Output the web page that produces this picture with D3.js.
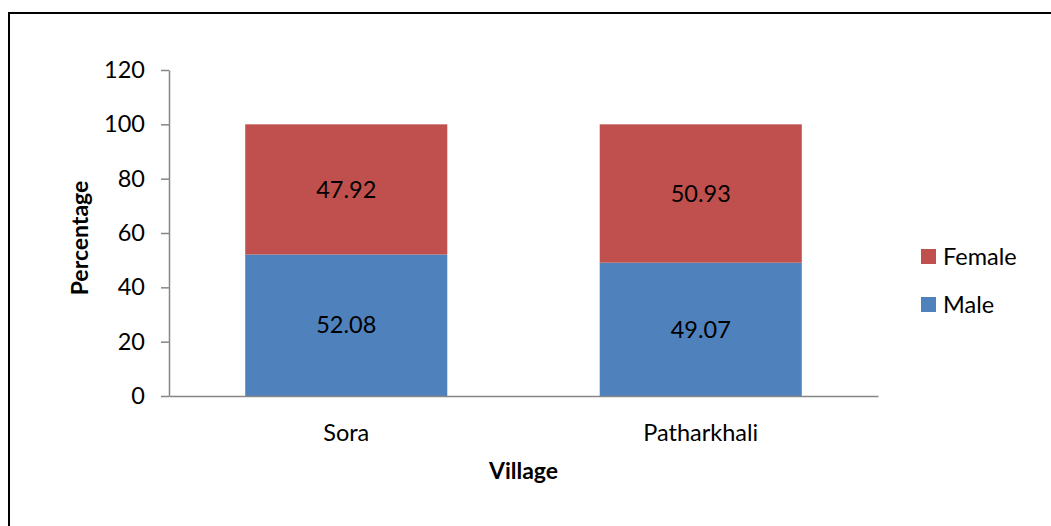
<!DOCTYPE html>
<html>
<head>
<meta charset="utf-8">
<script src="https://cdn.jsdelivr.net/npm/d3@7"></script>
<style>
  body { margin: 0; background: #fff; }
  text { font-family: Lato, "Open Sans", sans-serif; fill: #000; }
</style>
</head>
<body>
<div id="my_dataviz"></div>
<script>

// data
let villages = ["Sora", "Patharkhali"];
let male = [52.08, 49.07];
let female = [47.92, 50.93];
let series_names = ["Male", "Female"];
let y_ticks = [0, 20, 40, 60, 80, 100, 120];

let colors = { Male: "#4F81BD", Female: "#C0504D" };

let width = 1051, height = 526;

let svg = d3.select("#my_dataviz")
    .append("svg")
    .attr("width", width)
    .attr("height", height);

// outer border of the chart area (runs past the right and bottom edges)
svg.append("rect")
    .attr("x", 9)
    .attr("y", 13)
    .attr("width", 1100)
    .attr("height", 600)
    .attr("fill", "none")
    .attr("stroke", "#000")
    .attr("stroke-width", 2);

let plot = { left: 169, right: 878, top: 70, bottom: 396 };

let x = d3.scaleBand()
    .domain(villages)
    .range([plot.left, plot.right])
    .paddingInner(0.43)
    .paddingOuter(0.215);

let y = d3.scaleLinear()
    .domain([0, 120])
    .range([plot.bottom, plot.top]);

// stack the two series
let table = villages.map((v, i) => ({ village: v, Male: male[i], Female: female[i] }));
let stacked = d3.stack().keys(series_names)(table);

let layers = svg.selectAll(".layer")
    .data(stacked)
    .enter()
    .append("g")
    .attr("class", "layer")
    .attr("fill", d => colors[d.key]);

layers.selectAll("rect")
    .data(d => d)
    .enter()
    .append("rect")
    .attr("x", d => x(d.data.village))
    .attr("y", d => y(d[1]))
    .attr("width", x.bandwidth())
    .attr("height", d => y(d[0]) - y(d[1]));

layers.selectAll(".lbl")
    .data(d => d)
    .enter()
    .append("text")
    .attr("class", "lbl")
    .attr("x", d => x(d.data.village) + x.bandwidth() / 2)
    .attr("y", d => (y(d[0]) + y(d[1])) / 2)
    .attr("dy", "0.35em")
    .attr("text-anchor", "middle")
    .style("font-size", "23.5px")
    .style("fill", "#000")
    .text(d => (d[1] - d[0]).toFixed(2));

// y axis
let yAxis = svg.append("g")
    .attr("transform", "translate(" + plot.left + ",0)")
    .call(d3.axisLeft(y).tickValues(y_ticks).tickSize(8).tickSizeOuter(0));
yAxis.select(".domain").attr("stroke", "#868686").attr("stroke-width", 1.5);
yAxis.selectAll(".tick line").attr("stroke", "#868686").attr("stroke-width", 1.5);
yAxis.selectAll(".tick text")
    .attr("x", -24)
    .style("font-family", "Lato, sans-serif")
    .style("font-size", "23.5px")
    .attr("fill", "#000");

// x axis
let xAxis = svg.append("g")
    .attr("transform", "translate(0," + plot.bottom + ")")
    .call(d3.axisBottom(x).tickSize(0).tickSizeOuter(0));
xAxis.select(".domain").attr("stroke", "#868686").attr("stroke-width", 1.5);
xAxis.selectAll(".tick text")
    .attr("y", 28)
    .style("font-family", "Lato, sans-serif")
    .style("font-size", "23.5px")
    .attr("fill", "#000");

// axis titles
svg.append("text")
    .attr("transform", "translate(88," + ((plot.top + plot.bottom) / 2 + 5) + ") rotate(-90)")
    .attr("text-anchor", "middle")
    .style("font-size", "23px")
    .style("font-weight", "bold")
    .text("Percentage");

svg.append("text")
    .attr("x", (plot.left + plot.right) / 2)
    .attr("y", 479)
    .attr("text-anchor", "middle")
    .style("font-size", "23px")
    .style("font-weight", "bold")
    .text("Village");

// legend (Female on top)
let legend_items = ["Female", "Male"];
let legend = svg.selectAll(".legend")
    .data(legend_items)
    .enter()
    .append("g")
    .attr("class", "legend")
    .attr("transform", (d, i) => "translate(921," + (249 + i * 48) + ")");

legend.append("rect")
    .attr("width", 15)
    .attr("height", 15)
    .attr("fill", d => colors[d]);

legend.append("text")
    .attr("x", 22)
    .attr("y", 8)
    .attr("dy", "0.35em")
    .style("font-size", "23.5px")
    .text(d => d);

</script>
</body>
</html>
